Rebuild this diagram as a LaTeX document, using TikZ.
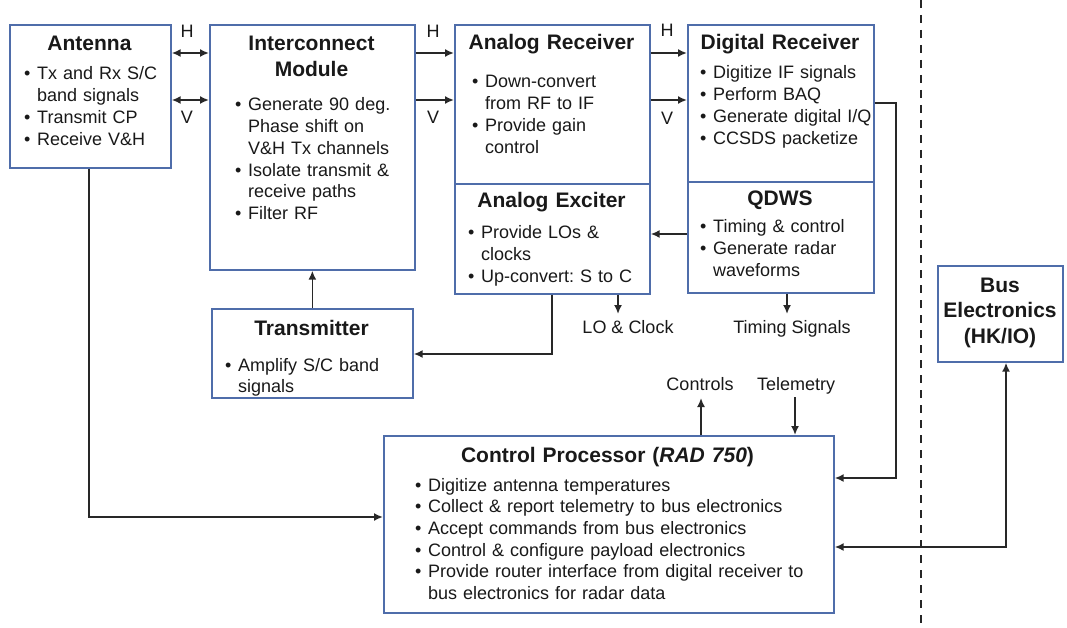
\documentclass[tikz,border=0pt]{standalone}
\usepackage{fontspec}
\setmainfont{Liberation Sans}
\usetikzlibrary{arrows.meta}
\frenchspacing
\definecolor{boxblue}{RGB}{79,109,170}
\definecolor{linegray}{RGB}{40,40,40}
\definecolor{txtc}{RGB}{25,25,25}
\newcommand\bl{\makebox[13pt][l]{•}}
\newcommand\ind{\hspace*{13pt}}
\tikzset{
  blk/.style={draw=boxblue, line width=1.7pt, rectangle, inner sep=0pt, anchor=north west},
  ttl/.style={font=\fontsize{21}{25.5}\selectfont\bfseries, text=txtc, inner sep=0pt, anchor=base, align=center, text width=#1},
  ttl/.default=220pt,
  body/.style={font=\fontsize{18}{21.7}\selectfont, text=txtc, inner sep=0pt, anchor=base west, align=left, text width=#1},
  body/.default=400pt,
  lbl/.style={font=\fontsize{18}{21.7}\selectfont, text=txtc, inner sep=0pt, anchor=base},
  arr/.style={draw=linegray, line width=1.7pt, -{Latex[length=9pt,width=8pt]}},
  dbl/.style={draw=linegray, line width=1.7pt, {Latex[length=9pt,width=8pt]}-{Latex[length=9pt,width=8pt]}},
  dashln/.style={draw=black!85, line width=2.6pt, dash pattern=on 8pt off 7pt},
}
\begin{document}
\begin{tikzpicture}[x=1pt,y=-1pt]
\useasboundingbox[fill=white] (0,0) rectangle (1067,628);

% boxes
\node[blk, minimum width=161pt, minimum height=143pt] (ant) at (9,24) {};
\node[blk, minimum width=205pt, minimum height=245pt] (ic) at (209,24) {};
\node[blk, minimum width=195pt, minimum height=159pt] (ar) at (454,24) {};
\node[blk, minimum width=195pt, minimum height=110pt] (ae) at (454,183) {};
\node[blk, minimum width=186pt, minimum height=157pt] (dr) at (687,24) {};
\node[blk, minimum width=186pt, minimum height=111pt] (qd) at (687,181) {};
\node[blk, minimum width=201pt, minimum height=89pt] (tx) at (211,308) {};
\node[blk, minimum width=125pt, minimum height=96pt] (bus) at (937,265) {};
\node[blk, minimum width=450pt, minimum height=177pt] (cp) at (383,435) {};

% titles
\node[ttl] (antT) at (89.5,51) {Antenna};
\node[ttl] (icT) at (311.5,51) {Interconnect\\Module};
\node[ttl] (arT) at (551.5,50) {Analog Receiver};
\node[ttl] (aeT) at (551.5,208) {Analog Exciter};
\node[ttl] (drT) at (780,50) {Digital Receiver};
\node[ttl] (qdT) at (780,206) {QDWS};
\node[ttl] (txT) at (311.5,335) {Transmitter};
\node[ttl=125pt] (busT) at (1000,292) {Bus\\Electronics\\(HK/IO)};
\node[ttl=440pt] (cpT) at (607.5,462) {Control Processor (\textit{RAD 750})};

% bodies
\node[body] (antB) at (24,80) {\bl Tx and Rx S/C\\\ind band signals\\\bl Transmit CP\\\bl Receive V\&H};
\node[body] (icB) at (235,111) {\bl Generate 90 deg.\\\ind Phase shift on\\\ind V\&H Tx channels\\\bl Isolate transmit \&\\\ind receive paths\\\bl Filter RF};
\node[body] (arB) at (472,88) {\bl Down-convert\\\ind from RF to IF\\\bl Provide gain\\\ind control};
\node[body] (aeB) at (468,239) {\bl Provide LOs \&\\\ind clocks\\\bl Up-convert: S to C};
\node[body] (drB) at (700,79) {\bl Digitize IF signals\\\bl Perform BAQ\\\bl Generate digital I/Q\\\bl CCSDS packetize};
\node[body] (qdB) at (700,233) {\bl Timing \& control\\\bl Generate radar\\\ind waveforms};
\node[body] (txB) at (225,371) {\bl Amplify S/C band\\\ind signals};
\node[body] (cpB) at (415,491) {\bl Digitize antenna temperatures\\\bl Collect \& report telemetry to bus electronics\\\bl Accept commands from bus electronics\\\bl Control \& configure payload electronics\\\bl Provide router interface from digital receiver to\\\ind bus electronics for radar data};

% labels
\node[lbl] (h1) at (187,38) {H};
\node[lbl] (v1) at (187,124) {V};
\node[lbl] (h2) at (433,38) {H};
\node[lbl] (v2) at (433,124) {V};
\node[lbl] (h3) at (667,37) {H};
\node[lbl] (v3) at (667,125) {V};
\node[lbl] (lo) at (628,333) {LO \& Clock};
\node[lbl] (ts) at (792,333) {Timing Signals};
\node[lbl] (ctl) at (700,390) {Controls};
\node[lbl] (tel) at (796,390) {Telemetry};

% helper coordinates
\coordinate (yH) at (0,53);
\coordinate (yV) at (0,100);
\coordinate (yQ) at (0,234);
\coordinate (xA) at (552,0);
\coordinate (yT) at (0,354);
\coordinate (loend) at (618,314);
\coordinate (tsend) at (787,314);
\coordinate (dr1) at (896,103);
\coordinate (dr2) at (896,478);
\coordinate (b1) at (1006,547);
\coordinate (a1) at (89,517);
\coordinate (c1) at (701,398);
\coordinate (t1) at (795,397);
\coordinate (dtop) at (921,0);
\coordinate (dbot) at (921,628);

% connectors
\draw[dbl] (ant.east |- yH) -- (ic.west |- yH);
\draw[dbl] (ant.east |- yV) -- (ic.west |- yV);
\draw[arr] (ic.east |- yH) -- (ar.west |- yH);
\draw[arr] (ic.east |- yV) -- (ar.west |- yV);
\draw[arr] (ar.east |- yH) -- (dr.west |- yH);
\draw[arr] (ar.east |- yV) -- (dr.west |- yV);
\draw[arr] (qd.west |- yQ) -- (ae.east |- yQ);
\draw[arr] (tx.north) -- (ic.south);
\draw[arr] (ae.south -| xA) -- (xA |- yT) -- (tx.east |- yT);
\draw[arr] (ae.south -| loend) -- (loend);
\draw[arr] (qd.south -| tsend) -- (tsend);
\draw[arr] (dr.east |- dr1) -- (dr1) -- (dr2) -- (cp.east |- dr2);
\draw[dbl] (bus.south -| b1) -- (b1) -- (cp.east |- b1);
\draw[arr] (ant.south -| a1) -- (a1) -- (cp.west |- a1);
\draw[arr] (cp.north -| c1) -- (c1);
\draw[arr] (t1) -- (cp.north -| t1);
\draw[dashln] (dtop) -- (dbot);
\end{tikzpicture}
\end{document}
